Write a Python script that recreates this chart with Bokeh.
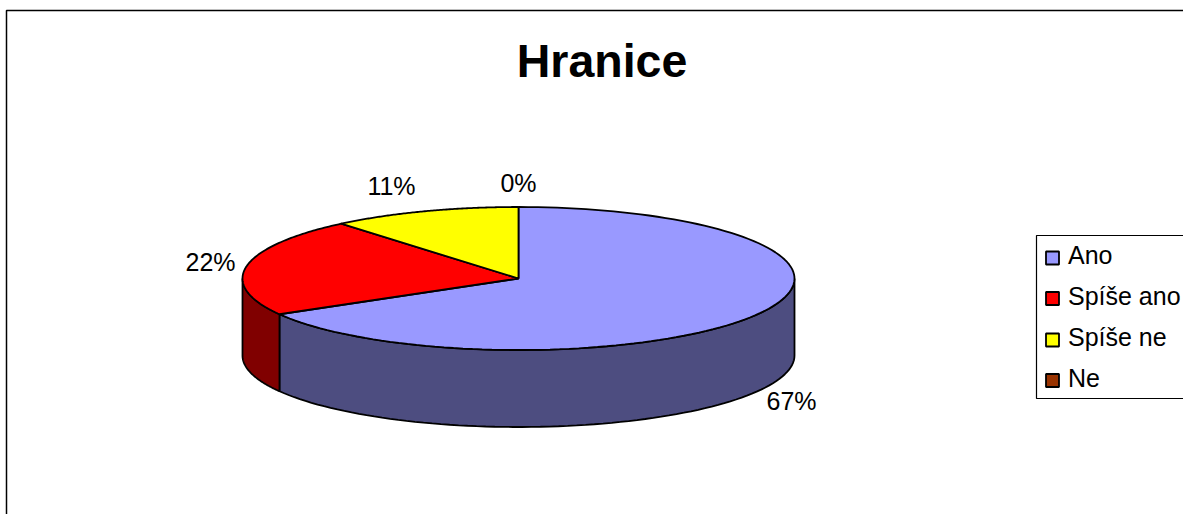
import numpy as np
from bokeh.core.properties import value
from bokeh.embed import file_html
from bokeh.plotting import figure
from bokeh.resources import INLINE

title = "Hranice"
categories = ["Ano", "Spíše ano", "Spíše ne", "Ne"]
counts = [6, 2, 1, 0]
top_colors = ["#9999FF", "#FF0000", "#FFFF00", "#993300"]
side_colors = ["#4D4D80", "#800000", "#808000", "#4D1A00"]
label_pos = [(791, 400), (210, 261), (391, 185), (518, 182)]

CX, CY, RX, RY, DEPTH = 518.0, 278.0, 276.0, 71.5, 77.0
FONT = value("Liberation Sans")

p = figure(width=1183, height=514, output_backend="svg", toolbar_location=None,
           x_range=(0, 1183), y_range=(514, 0), min_border=0,
           x_axis_type=None, y_axis_type=None, outline_line_color=None)
p.grid.visible = False
p.background_fill_color = "white"
p.border_fill_color = "white"

# chart frame
p.line([6, 6, 1183], [514, 10, 10], line_color="black", line_width=1.5)


def ell(a, depth=0.0):
    return CX + RX * np.sin(a), CY - RY * np.cos(a) + depth


total = sum(counts)
edges = np.radians(np.concatenate([[0], np.cumsum(counts) / total * 360]))

# side walls: only the front half (90..270 degrees clockwise from top) shows
lo_vis, hi_vis = np.radians(90), np.radians(270)
for i in range(len(counts)):
    lo, hi = max(edges[i], lo_vis), min(edges[i + 1], hi_vis)
    if hi <= lo:
        continue
    t = np.linspace(lo, hi, 80)
    x0, y0 = ell(t)
    x1, y1 = ell(t[::-1], DEPTH)
    p.patch(np.r_[x0, x1], np.r_[y0, y1], fill_color=side_colors[i],
            line_color="black", line_width=1.8)

# top faces
for i in range(len(counts)):
    if counts[i] == 0:
        continue
    t = np.linspace(edges[i], edges[i + 1], 120)
    x0, y0 = ell(t)
    p.patch(np.r_[CX, x0], np.r_[CY, y0], fill_color=top_colors[i],
            line_color="black", line_width=1.8)

# data labels
labels = [f"{round(c / total * 100)}%" for c in counts]
p.text([q[0] for q in label_pos], [q[1] for q in label_pos], text=labels,
       text_font=FONT, text_font_size="25px", text_align="center",
       text_baseline="middle", text_color="black")

# title
p.text([601.5], [60.5], text=[title], text_font=FONT, text_font_size="46.5px",
       text_font_style="bold", text_align="center", text_baseline="middle",
       text_color="black")

# legend
p.line([1183, 1036, 1036, 1183], [235, 235, 398, 398], line_color="black", line_width=1.2)
rows = [257.5, 298, 339.5, 380]
p.rect([1052] * 4, rows, width=13, height=13, fill_color=top_colors,
       line_color="black", line_width=1.8)
p.text([1067.5] * 4, [r - 3 for r in rows], text=categories, text_font=FONT,
       text_font_size="25px", text_align="left", text_baseline="middle",
       text_color="black")

open("out.html", "w").write(file_html(p, INLINE))
